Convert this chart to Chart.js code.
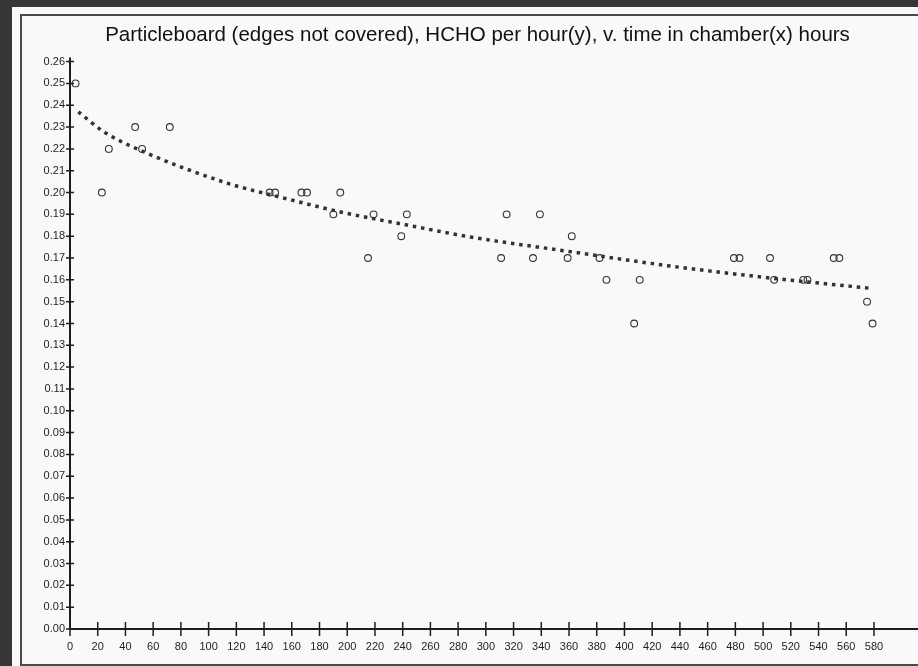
<!DOCTYPE html>
<html>
<head>
<meta charset="utf-8">
<script src="https://cdn.jsdelivr.net/npm/chart.js@4/dist/chart.umd.min.js"></script>
<style>
  html, body { margin: 0; padding: 0; }
  body { width: 918px; height: 666px; background: #363636; position: relative; overflow: hidden; }
  #paper { position: absolute; left: 12px; top: 7px; width: 920px; height: 670px; background: #f9f9f9; }
  #frame { position: absolute; left: 20px; top: 14px; width: 910px; height: 648px; border: 2px solid #4a4a4a; border-right: none; }
  #wrap { position: absolute; left: 0; top: 0; width: 956px; height: 666px; }
</style>
</head>
<body>
<div id="paper"></div>
<div id="frame"></div>
<div id="wrap"><canvas id="chart" width="956" height="666"></canvas></div>
<script>
// observed emission per hour (circles)
const obsHours = [4, 23, 28, 47, 52, 72, 144, 148, 167, 171, 190, 195, 215, 219, 239, 243,
  311, 315, 334, 339, 359, 362, 382, 387, 407, 411, 479, 483, 505, 508, 529, 532, 551, 555, 575, 579];
const obsHcho = [0.25, 0.20, 0.22, 0.23, 0.22, 0.23, 0.20, 0.20, 0.20, 0.20, 0.19, 0.20, 0.17, 0.19, 0.18, 0.19,
  0.17, 0.19, 0.17, 0.19, 0.17, 0.18, 0.17, 0.16, 0.14, 0.16, 0.17, 0.17, 0.17, 0.16, 0.16, 0.16, 0.17, 0.17, 0.15, 0.14];

// fitted curve (dotted)
const fitHours = [6, 24, 52, 115, 151, 196, 244, 290, 360, 431, 503, 579];
const fitHcho = [0.237, 0.228, 0.219, 0.204, 0.198, 0.191, 0.185, 0.1795, 0.173, 0.1665, 0.161, 0.156];

const xTicks = [0, 20, 40, 60, 80, 100, 120, 140, 160, 180, 200, 220, 240, 260, 280,
  300, 320, 340, 360, 380, 400, 420, 440, 460, 480, 500, 520, 540, 560, 580];
const yTickStep = 0.01;

const titleText = 'Particleboard (edges not covered), HCHO per hour(y), v. time in chamber(x) hours';
const ink = '#1e1e1e';

// ticks that cross the axis lines, like the original plot
const crossTicks = {
  id: 'crossTicks',
  afterDraw(chart) {
    const { ctx, chartArea } = chart;
    const xs = chart.scales.x;
    const ys = chart.scales.y;
    ctx.save();
    ctx.strokeStyle = ink;
    ctx.lineWidth = 2;
    ctx.beginPath();
    ctx.moveTo(chartArea.left, chartArea.top - 4);
    ctx.lineTo(chartArea.left, chartArea.bottom);
    ctx.lineTo(chartArea.right, chartArea.bottom);
    ctx.stroke();
    ctx.lineWidth = 1.5;
    ctx.beginPath();
    xs.ticks.forEach((t) => {
      const px = xs.getPixelForValue(t.value);
      ctx.moveTo(px, chartArea.bottom - 7);
      ctx.lineTo(px, chartArea.bottom + 7);
    });
    ys.ticks.forEach((t) => {
      const py = ys.getPixelForValue(t.value);
      ctx.moveTo(chartArea.left - 4, py);
      ctx.lineTo(chartArea.left + 4, py);
    });
    ctx.stroke();
    ctx.restore();
  },
};

new Chart(document.getElementById('chart'), {
  type: 'scatter',
  data: {
    datasets: [
      {
        label: 'fit',
        data: fitHours.map((h, i) => ({ x: h, y: fitHcho[i] })),
        showLine: true,
        cubicInterpolationMode: 'monotone',
        borderColor: '#333',
        borderWidth: 3.5,
        borderDash: [3.5, 4.8],
        pointRadius: 0,
        fill: false,
      },
      {
        label: 'observed',
        data: obsHours.map((h, i) => ({ x: h, y: obsHcho[i] })),
        pointStyle: 'circle',
        pointRadius: 3.4,
        pointBorderWidth: 1.1,
        pointBorderColor: '#333',
        pointBackgroundColor: 'rgba(255,255,255,0)',
        showLine: false,
      },
    ],
  },
  options: {
    responsive: false,
    animation: false,
    layout: { padding: { top: 0, right: 1, bottom: 0, left: 0 } },
    plugins: {
      legend: { display: false },
      tooltip: { enabled: false },
      title: {
        display: true,
        text: titleText,
        color: '#111',
        font: { family: '"Liberation Sans", Arial, sans-serif', size: 20.5, weight: 'normal' },
        padding: { top: 23, bottom: 14 },
      },
    },
    scales: {
      x: {
        type: 'linear',
        min: 0,
        max: 635.5,
        afterBuildTicks: (scale) => {
          scale.ticks = xTicks.map((v) => ({ value: v }));
        },
        afterFit: (scale) => {
          scale.height = 37;
        },
        border: { display: false },
        grid: { display: false, drawTicks: false },
        ticks: {
          color: ink,
          padding: 11,
          maxRotation: 0,
          autoSkip: false,
          font: { family: '"Liberation Sans", Arial, sans-serif', size: 11 },
        },
      },
      y: {
        type: 'linear',
        min: 0,
        max: 0.26,
        afterFit: (scale) => {
          scale.width = 70;
        },
        border: { display: false },
        grid: { display: false, drawTicks: false },
        ticks: {
          stepSize: yTickStep,
          color: ink,
          padding: 5,
          autoSkip: false,
          callback: (v) => v.toFixed(2),
          font: { family: '"Liberation Sans", Arial, sans-serif', size: 11 },
        },
      },
    },
  },
  plugins: [crossTicks],
});
</script>
</body>
</html>
